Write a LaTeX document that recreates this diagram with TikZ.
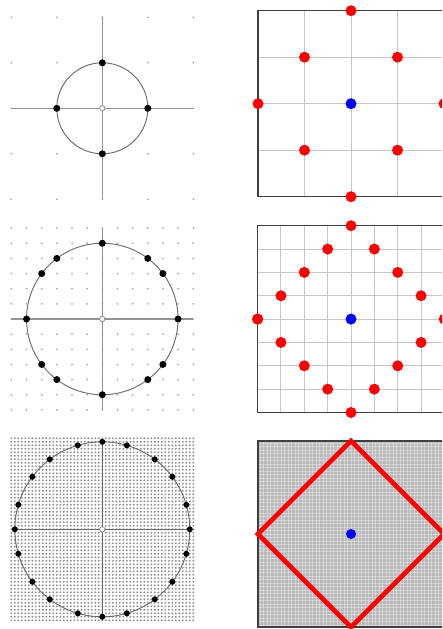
\documentclass[tikz,border=0pt]{standalone}
\usepackage{tikz}
\usetikzlibrary{calc}

\tikzset{
  griddot/.style={fill=gray!70},
  axisline/.style={draw=gray!85, line width=1.2pt},
  ring/.style={draw=gray!85!black, line width=0.8pt},
  hit/.style={fill=black},
  origin/.style={draw=gray, fill=white, line width=0.6pt},
  frame/.style={draw=black!75, line width=1.1pt},
  gridline/.style={draw=gray!45, line width=0.8pt},
  meshline/.style={draw=white, opacity=0.35, line width=0.3pt},
  reddot/.style={fill=red},
  bluedot/.style={fill=blue}
}

\begin{document}
\begin{tikzpicture}[x=0.3mm, y=-0.3mm]
        \clip (0,0) rectangle (442,629);
        \begin{scope}[shift={(102.3,108.3)}, x=13.65mm, y=-13.65mm]
          \foreach \i in {-2,...,2}
            \foreach \j in {-2,...,2}
              \fill[griddot] (\i,\j) circle[radius=0.3mm];
          \draw[axisline] (-2,0) -- (2,0);
          \draw[axisline] (0,-2) -- (0,2);
          \draw[ring] (0,0) circle (1);
          \foreach \a/\b in {1/0, 0/1, -1/0, 0/-1}
            \fill[hit] (\a,\b) circle[radius=1.05mm];
          \draw[origin] (0,0) circle[radius=0.8mm];
        \end{scope}
        \begin{scope}[shift={(351,103.7)}, x=13.95mm, y=-13.95mm]
          \foreach \t in {-2,...,2} {
            \draw[gridline] (\t,-2) -- (\t,2);
            \draw[gridline] (-2,\t) -- (2,\t);
          }
          \draw[frame] (-2,-2) rectangle (2,2);
          \foreach \a/\b in {0/2, 1/1, 2/0, 1/-1, 0/-2, -1/-1, -2/0, -1/1}
            \fill[reddot] (\a,\b) circle[radius=1.65mm];
          \fill[bluedot] (0,0) circle[radius=1.65mm];
        \end{scope}
        \begin{scope}[shift={(102.3,319)}, x=4.545mm, y=-4.545mm]
          \foreach \i in {-6,...,6}
            \foreach \j in {-6,...,6}
              \fill[griddot] (\i,\j) circle[radius=0.3mm];
          \draw[axisline] (-6,0) -- (6,0);
          \draw[axisline] (0,-6) -- (0,6);
          \draw[ring] (0,0) circle (5);
          \foreach \a/\b in {5/0, 0/5, -5/0, 0/-5}
            \fill[hit] (\a,\b) circle[radius=1.05mm];
          \foreach \sx in {1,-1}
            \foreach \sy in {1,-1}
              \foreach \a/\b in {3/4, 4/3}
                \fill[hit] (\sx*\a,\sy*\b) circle[radius=1.05mm];
          \draw[origin] (0,0) circle[radius=0.8mm];
        \end{scope}
        \begin{scope}[shift={(351,319.1)}, x=7.005mm, y=-7.005mm]
          \foreach \t in {-4,...,4} {
            \draw[gridline] (\t,-4) -- (\t,4);
            \draw[gridline] (-4,\t) -- (4,\t);
          }
          \draw[frame] (-4,-4) rectangle (4,4);
          \foreach \i in {-4,...,4} {
            \pgfmathsetmacro\k{4-abs(\i)}
            \fill[reddot] (\i,\k) circle[radius=1.65mm];
            \fill[reddot] (\i,-\k) circle[radius=1.65mm];
          }
          \fill[bluedot] (0,0) circle[radius=1.65mm];
        \end{scope}
        \begin{scope}[shift={(102.3,529.3)}, x=1.05mm, y=-1.05mm]
          \foreach \i in {-26,...,26}
            \foreach \j in {-26,...,26}
              \fill[gray!85] (\i,\j) circle[radius=0.32mm];
          \draw[axisline, draw=gray!80!black] (-25,0) -- (25,0);
          \draw[axisline, draw=gray!80!black] (0,-25) -- (0,25);
          \draw[ring] (0,0) circle (25);
          \foreach \a/\b in {25/0, 0/25, -25/0, 0/-25}
            \fill[hit] (\a,\b) circle[radius=0.9mm];
          \foreach \sx in {1,-1}
            \foreach \sy in {1,-1}
              \foreach \a/\b in {7/24, 15/20, 20/15, 24/7}
                \fill[hit] (\sx*\a,\sy*\b) circle[radius=0.9mm];
          \draw[origin] (0,0) circle[radius=0.8mm];
        \end{scope}
        \begin{scope}[shift={(351,534)}, x=1.05mm, y=-1.05mm]
          \fill[gray!55] (-26.6,-26.6) rectangle (26.6,26.6);
          \foreach \t in {-26,...,26} {
            \draw[meshline] (\t,-26.6) -- (\t,26.6);
            \draw[meshline] (-26.6,\t) -- (26.6,\t);
          }
          \draw[frame] (-26.6,-26.6) rectangle (26.6,26.6);
          \draw[red, line width=4pt] (0,-26.6) -- (26.6,0) -- (0,26.6) -- (-26.6,0) -- cycle;
          \fill[bluedot] (0,0) circle[radius=1.5mm];
        \end{scope}
      \end{tikzpicture}
\end{document}
